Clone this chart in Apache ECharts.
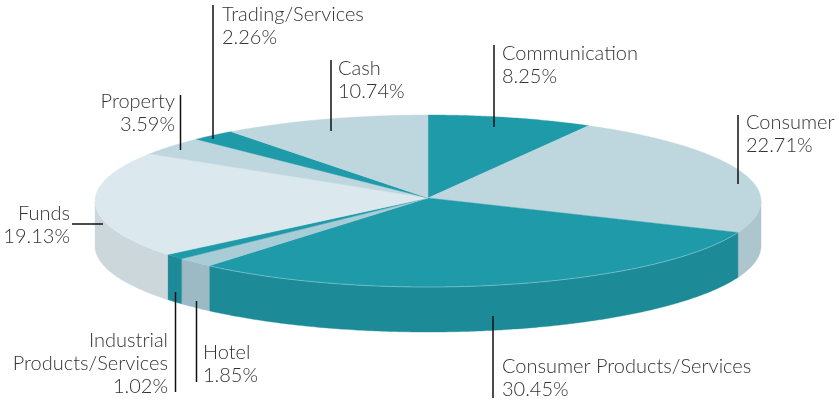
<!DOCTYPE html>
<html><head><meta charset="utf-8">
<style>html,body{margin:0;padding:0;background:#fff}#c{width:839px;height:400px}</style>
<script src="https://cdn.jsdelivr.net/npm/echarts@6/dist/echarts.min.js"></script>
</head><body><div id="c"></div>
<script>
const categories = ['Communication','Consumer','Consumer Products/Services','Hotel','Industrial Products/Services','Funds','Property','Trading/Services','Cash'];
const values = [8.25,22.71,30.45,1.85,1.02,19.13,3.59,2.26,10.74];
const topColors = ['#1e9aa9','#bed6de','#1e9aa9','#a9cdd6','#1e9aa9','#dbe8ed','#bed6de','#1e9aa9','#bed6de'];
const sideColors = ['#1c8a97','#adc5cd','#1c8a97','#9bbac3','#1c8a97','#cbd7db','#adc5cd','#1c8a97','#adc5cd'];

// layout of the tilted disc
const CX=428, CY=201, APEX_Y=198, RX=333, RY=86, DEPTH=45;
// label layout
const labelLayout = [
 {lines:['Communication'],x:502,y:54,align:'left',lead:[494,45,494,127]},
 {lines:['Consumer'],x:746,y:123,align:'left',lead:[738,115,738,184]},
 {lines:['Consumer Products/Services'],x:502,y:367,align:'left',lead:[493,316,493,398]},
 {lines:['Hotel'],x:203,y:353,align:'left',lead:[196.5,301,196.5,382]},
 {lines:['Industrial','Products/Services'],x:168,y:341,align:'right',lead:[175.5,292,175.5,392]},
 {lines:['Funds'],x:70,y:214,align:'right',lead:[72,224,103,224]},
 {lines:['Property'],x:175,y:102,align:'right',lead:[180.5,95,180.5,150]},
 {lines:['Trading/Services'],x:222,y:15,align:'left',lead:[213,5,213,139]},
 {lines:['Cash'],x:338,y:69,align:'left',lead:[331,60,331,131]}
];
const total = values.reduce((a,b)=>a+b,0);
const DEG=Math.PI/180;
// slight foreshortening of the drawn perspective
function warp(t){
  const d=t/DEG;
  if(d<111.5) return t-1.2*DEG*Math.sin(Math.PI*d/111.5);
  if(d>231) return t+3*DEG*Math.sin(Math.PI*(d-231)/129);
  return t;
}
const starts=[]; let acc=0;
values.forEach(v=>{starts.push(acc/total*Math.PI*2); acc+=v;});
const rim=(t,dy)=>{const w=warp(t);return [CX+RX*Math.sin(w), CY-RY*Math.cos(w)+(dy||0)];};
const arcPts=(a,b,dy)=>{const n=Math.max(2,Math.ceil((b-a)/0.01));const p=[];for(let i=0;i<=n;i++)p.push(rim(a+(b-a)*i/n,dy));return p;};

function sideItem(params,api){
  const i=api.value(2), a=starts[i], b=a+api.value(0)/total*Math.PI*2;
  // front half of the rim: find it in warped angle space
  const pts0=arcPts(a,b,0).filter(p=>true);
  const n=pts0.length, vis=[];
  for(let k=0;k<n;k++){const t=a+(b-a)*k/(n-1),w=warp(t); if(w>=Math.PI/2&&w<=Math.PI*1.5) vis.push(t);}
  if(vis.length<2) return {type:'group',children:[]};
  const a2=vis[0], b2=vis[vis.length-1];
  const pts=arcPts(a2,b2,0).concat(arcPts(a2,b2,DEPTH).reverse());
  return {type:'polygon',shape:{points:pts},style:{fill:sideColors[i],stroke:sideColors[i],lineWidth:0.4}};
}
function topItem(params,api){
  const i=api.value(2), a=starts[i], b=a+api.value(0)/total*Math.PI*2;
  const pts=[[CX,APEX_Y]].concat(arcPts(a,b,0));
  return {type:'polygon',shape:{points:pts},style:{fill:topColors[i],stroke:topColors[i],lineWidth:0.4}};
}
function rimItem(params,api){
  const i=api.value(2);
  if(categories[i]!=='Consumer Products/Services') return {type:'group',children:[]};
  const a=starts[i], b=a+api.value(0)/total*Math.PI*2;
  return {type:'polyline',shape:{points:arcPts(a,b,0)},style:{fill:'none',stroke:'rgba(190,225,230,0.55)',lineWidth:0.8}};
}
const FONT='Lato';
function labelItem(params,api){
  const i=api.value(2), L=labelLayout[i];
  const children=[{type:'line',shape:{x1:L.lead[0],y1:L.lead[1],x2:L.lead[2],y2:L.lead[3]},style:{stroke:'#111',lineWidth:1.5}}];
  const lines=L.lines.concat([api.value(0).toFixed(2)+'%']);
  lines.forEach((s,k)=>children.push({type:'text',style:{text:s,x:L.x,y:L.y+k*22.6,textAlign:L.align,textVerticalAlign:'middle',font:'300 20px '+FONT,fill:'#333'}}));
  return {type:'group',children};
}
const data=values.map((v,i)=>({name:categories[i],value:[v,0,i]}));
const mk=(fn,z)=>({type:'custom',coordinateSystem:'none',renderItem:fn,data,z,silent:true,animation:false,clip:false});
const chart=echarts.init(document.getElementById('c'),null,{renderer:'canvas'});
chart.setOption({animation:false,backgroundColor:'#fff',
 series:[mk(sideItem,1),mk(topItem,2),mk(rimItem,3),mk(labelItem,4)]});
</script></body></html>
